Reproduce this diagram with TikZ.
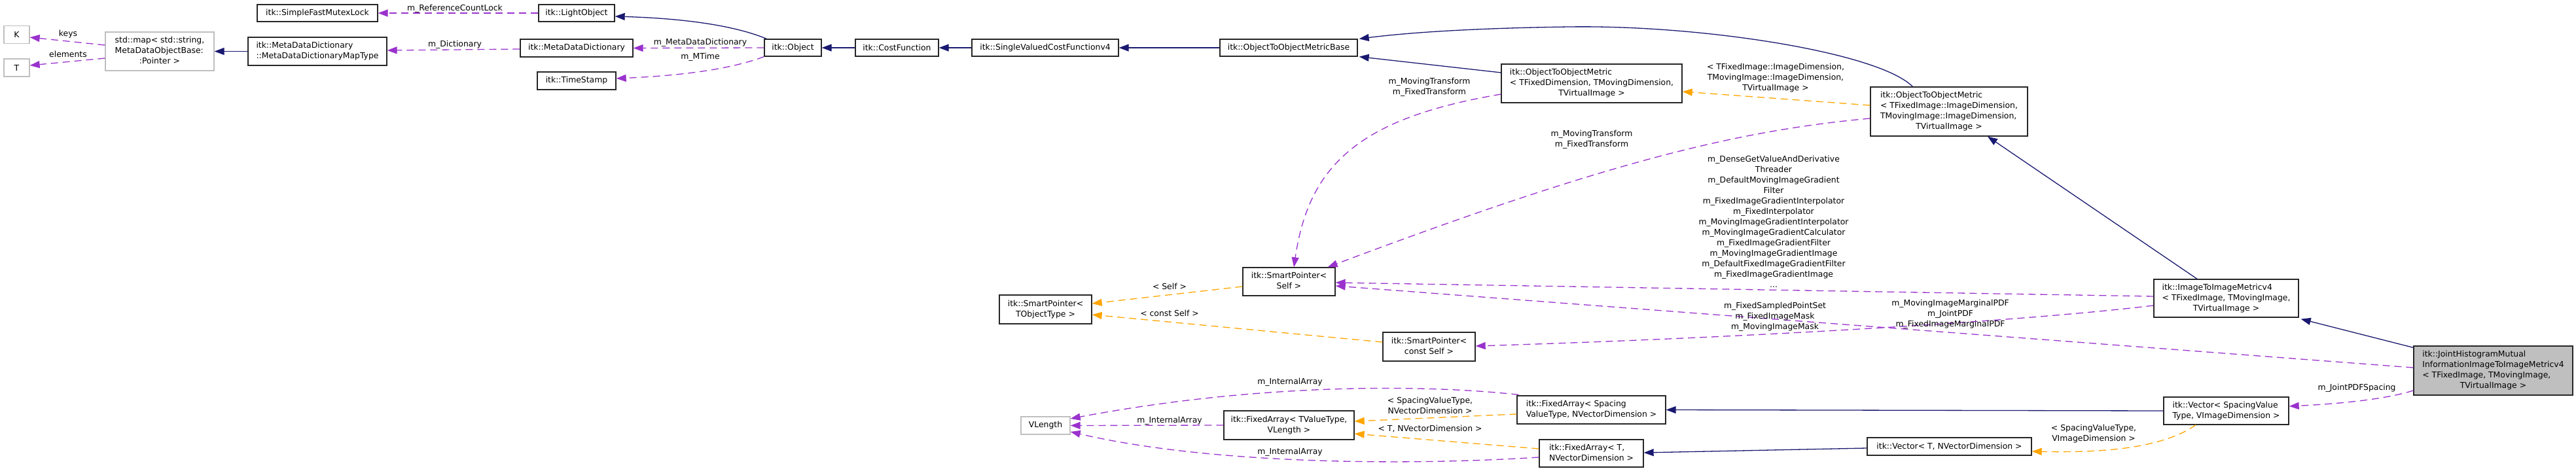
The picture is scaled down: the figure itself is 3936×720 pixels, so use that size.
\documentclass[tikz,border=0pt]{standalone}
\usepackage{fontspec}
\setmainfont{DejaVu Sans}
\usetikzlibrary{arrows.meta,calc}
\definecolor{navy}{RGB}{25,25,112}
\definecolor{purp}{RGB}{154,50,205}
\definecolor{orng}{RGB}{255,165,0}
\definecolor{gry}{RGB}{191,191,191}
\newcommand{\ml}[2]{\begin{tabular}{@{}l@{}}#1\\\multicolumn{1}{@{}c@{}}{#2}\end{tabular}}
\tikzset{
  bx/.style 2 args={draw=black!85, line width=1.3pt, fill=white, inner sep=0pt, minimum width=#1pt, minimum height=#2pt},
  gbx/.style 2 args={bx={#1}{#2}, draw=gry},
  lbl/.style={inner sep=0pt, align=center},
  inh/.style={draw=navy, line width=1.3pt, -{Triangle[length=15pt,width=11pt]}},
  dep/.style={draw=purp, line width=1.3pt, dash pattern=on 11pt off 7pt, -{Triangle[length=15pt,width=11pt]}},
  tpl/.style={draw=orng, line width=1.3pt, dash pattern=on 11pt off 7pt, -{Triangle[length=15pt,width=11pt]}}
}
\begin{document}
\begin{tikzpicture}[x=1pt,y=-1pt,font=\fontsize{12.4}{16}\selectfont]
\useasboundingbox (0,0) rectangle (3936,720);
% nodes
\node[bx={184}{26}] (smfl) at (485,20) {itk::SimpleFastMutexLock};
\node[bx={116}{26}] (lobj) at (881,20) {itk::LightObject};
\node[gbx={39}{27}] (K) at (25.5,53) {K};
\node[gbx={39}{27}] (T) at (25.5,103.5) {T};
\node[gbx={166}{59}] (stdmap) at (244,78.5) {\ml{std::map< std::string,\\MetaDataObjectBase:}{:Pointer >}};
\node[bx={212}{43}] (maptype) at (485,78.5) {\ml{itk::MetaDataDictionary}{::MetaDataDictionaryMapType}};
\node[bx={172}{27}] (mdd) at (881,73.5) {itk::MetaDataDictionary};
\node[bx={87}{26}] (obj) at (1211.5,73) {itk::Object};
\node[bx={120}{27}] (ts) at (881,123.5) {itk::TimeStamp};
\node[bx={127}{26}] (cf) at (1370.5,73) {itk::CostFunction};
\node[bx={224}{26}] (svcf) at (1597,73) {itk::SingleValuedCostFunctionv4};
\node[bx={210}{26}] (otomb) at (1969,73) {itk::ObjectToObjectMetricBase};
\node[bx={276}{59}] (otom1) at (2432,127.5) {\ml{itk::ObjectToObjectMetric\\< TFixedDimension, TMovingDimension,}{TVirtualImage >}};
\node[bx={240}{75}] (otom2) at (2978,170.5) {\ml{itk::ObjectToObjectMetric\\< TFixedImage::ImageDimension,\\TMovingImage::ImageDimension,}{TVirtualImage >}};
\node[bx={141}{43}] (sps) at (1969.5,430.5) {\ml{itk::SmartPointer<}{Self >}};
\node[bx={141}{44}] (spt) at (1597.5,473) {\ml{itk::SmartPointer<}{TObjectType >}};
\node[bx={141}{44}] (spcs) at (2183.5,530) {\ml{itk::SmartPointer<}{const Self >}};
\node[bx={221}{58}] (itim) at (3401.5,456) {\ml{itk::ImageToImageMetricv4\\< TFixedImage, TMovingImage,}{TVirtualImage >}};
\node[bx={243}{75}, fill=gry] (jh) at (3809.5,566.5) {\ml{itk::JointHistogramMutual\\InformationImageToImageMetricv4\\< TFixedImage, TMovingImage,}{TVirtualImage >}};
\node[bx={191}{42}] (vecs) at (3401.5,628) {\ml{itk::Vector< SpacingValue}{Type, VImageDimension >}};
\node[bx={251}{27}] (vect) at (2978.5,682.5) {itk::Vector< T, NVectorDimension >};
\node[bx={227}{43}] (fas) at (2431.5,626.5) {\ml{itk::FixedArray< Spacing}{ValueType, NVectorDimension >}};
\node[bx={159}{42}] (fat) at (2431.5,693) {\ml{itk::FixedArray< T,}{NVectorDimension >}};
\node[bx={199}{44}] (fav) at (1969.5,650) {\ml{itk::FixedArray< TValueType,}{VLength >}};
\node[gbx={75}{27}] (vlen) at (1597.5,650.5) {VLength};
% edges
\draw[dep] (lobj.west) -- (smfl.east);
\draw[dep] ($(stdmap.west)+(0,-9.5)$) -- ($(K.east)+(0,4)$);
\draw[dep] ($(stdmap.west)+(0,10.5)$) -- ($(T.east)+(0,-3.5)$);
\draw[inh] (maptype.west) -- (stdmap.east);
\draw[dep] ($(mdd.west)+(0,1.5)$) -- ($(maptype.east)+(0,-1.5)$);
\draw[inh] ($(obj.north west)+(4,0)$) .. controls (1120,38) and (1040,28) .. ($(lobj.east)+(0,5)$);
\draw[dep] (obj.west) -- (mdd.east);
\draw[dep] (obj.south west) .. controls (1110,108) and (1030,116) .. ($(ts.east)+(0,-3.5)$);
\draw[inh] (cf.west) -- (obj.east);
\draw[inh] (svcf.west) -- (cf.east);
\draw[inh] (otomb.west) -- (svcf.east);
\draw[inh] ($(otom1.west)+(0,-16.5)$) -- ($(otomb.south east)+(2,0)$);
\draw[inh] ($(otom2.north west)+(65,0)$) .. controls (2870,80) and (2600,38) .. (2398,41) .. controls (2250,43) and (2150,50) .. ($(otomb.north east)+(2,0)$);
\draw[tpl] ($(otom2.west)+(0,-9.5)$) -- ($(otom1.east)+(0,12.5)$);
\draw[dep] ($(otom1.west)+(0,16.5)$) .. controls (2080,180) and (2000,250) .. ($(sps.north)+(7.5,0)$);
\draw[dep] ($(otom2.west)+(0,10.5)$) .. controls (2650,200) and (2450,250) .. ($(sps.north east)+(-12,0)$);
\draw[tpl] ($(sps.west)+(0,7.5)$) -- ($(spt.east)+(0,-9)$);
\draw[tpl] ($(spcs.west)+(0,-7)$) -- ($(spt.east)+(0,8)$);
\draw[dep] ($(itim.west)+(0,-3)$) -- ($(sps.east)+(0,1.5)$);
\draw[dep] ($(jh.west)+(0,-4.5)$) -- ($(sps.east)+(0,6.5)$);
\draw[dep] ($(itim.west)+(0,11)$) .. controls (3100,490) and (2700,515) .. ($(spcs.east)+(0,-1)$);
\draw[inh] ($(jh.north west)+(0,3)$) -- ($(itim.south east)+(3,2)$);
\draw[inh] ($(itim.north)+(-44.5,0)$) -- ($(otom2.south)+(59,0)$);
\draw[dep] ($(jh.west)+(0,30.5)$) .. controls (3640,612) and (3560,618) .. ($(vecs.east)+(0,-7)$);
\draw[inh] (vecs.west) -- (fas.east);
\draw[tpl] ($(vecs.south)+(-46.5,0)$) .. controls (3300,688) and (3200,692) .. ($(vect.east)+(0,7.5)$);
\draw[inh] ($(vect.west)+(0,2.5)$) -- ($(fat.east)+(0,-1)$);
\draw[dep] ($(fas.north west)+(3,-1)$) .. controls (2150,585) and (1900,590) .. ($(vlen.east)+(0,-10.5)$);
\draw[tpl] ($(fas.west)+(0,6.5)$) -- ($(fav.east)+(0,-6)$);
\draw[dep] (fav.west) -- (vlen.east);
\draw[tpl] ($(fat.west)+(0,-7)$) -- ($(fav.east)+(0,13)$);
\draw[dep] ($(fat.west)+(0,6)$) .. controls (2150,712) and (1850,710) .. ($(vlen.east)+(0,9.5)$);
% labels
\node[lbl] (l1) at (695,13) {m\_ReferenceCountLock};
\node[lbl] (l2) at (104,52) {keys};
\node[lbl] (l3) at (104,83) {elements};
\node[lbl] (l4) at (695,68) {m\_Dictionary};
\node[lbl] (l5) at (1070,65) {m\_MetaDataDictionary};
\node[lbl] (l6) at (1070,87) {m\_MTime};
\node[lbl] (l7) at (2713,119) {< TFixedImage::ImageDimension,\\TMovingImage::ImageDimension,\\TVirtualImage >};
\node[lbl] (l8) at (2184,133) {m\_MovingTransform\\m\_FixedTransform};
\node[lbl] (l9) at (2432,213) {m\_MovingTransform\\m\_FixedTransform};
\node[lbl] (l10) at (2710,339) {m\_DenseGetValueAndDerivative\\Threader\\m\_DefaultMovingImageGradient\\Filter\\m\_FixedImageGradientInterpolator\\m\_FixedInterpolator\\m\_MovingImageGradientInterpolator\\m\_MovingImageGradientCalculator\\m\_FixedImageGradientFilter\\m\_MovingImageGradientImage\\m\_DefaultFixedImageGradientFilter\\m\_FixedImageGradientImage\\...};
\node[lbl] (l11) at (1787,438) {< Self >};
\node[lbl] (l12) at (1787,479) {< const Self >};
\node[lbl] (l13) at (2712,484) {m\_FixedSampledPointSet\\m\_FixedImageMask\\m\_MovingImageMask};
\node[lbl] (l14) at (2980,480) {m\_MovingImageMarginalPDF\\m\_JointPDF\\m\_FixedImageMarginalPDF};
\node[lbl] (l15) at (3601,593) {m\_JointPDFSpacing};
\node[lbl] (l16) at (3199,663) {< SpacingValueType,\\VImageDimension >};
\node[lbl] (l17) at (1971,584) {m\_InternalArray};
\node[lbl] (l18) at (2185,620) {< SpacingValueType,\\NVectorDimension >};
\node[lbl] (l19) at (1787,643) {m\_InternalArray};
\node[lbl] (l20) at (2185,656) {< T, NVectorDimension >};
\node[lbl] (l21) at (1971,691) {m\_InternalArray};
\end{tikzpicture}
\end{document}
